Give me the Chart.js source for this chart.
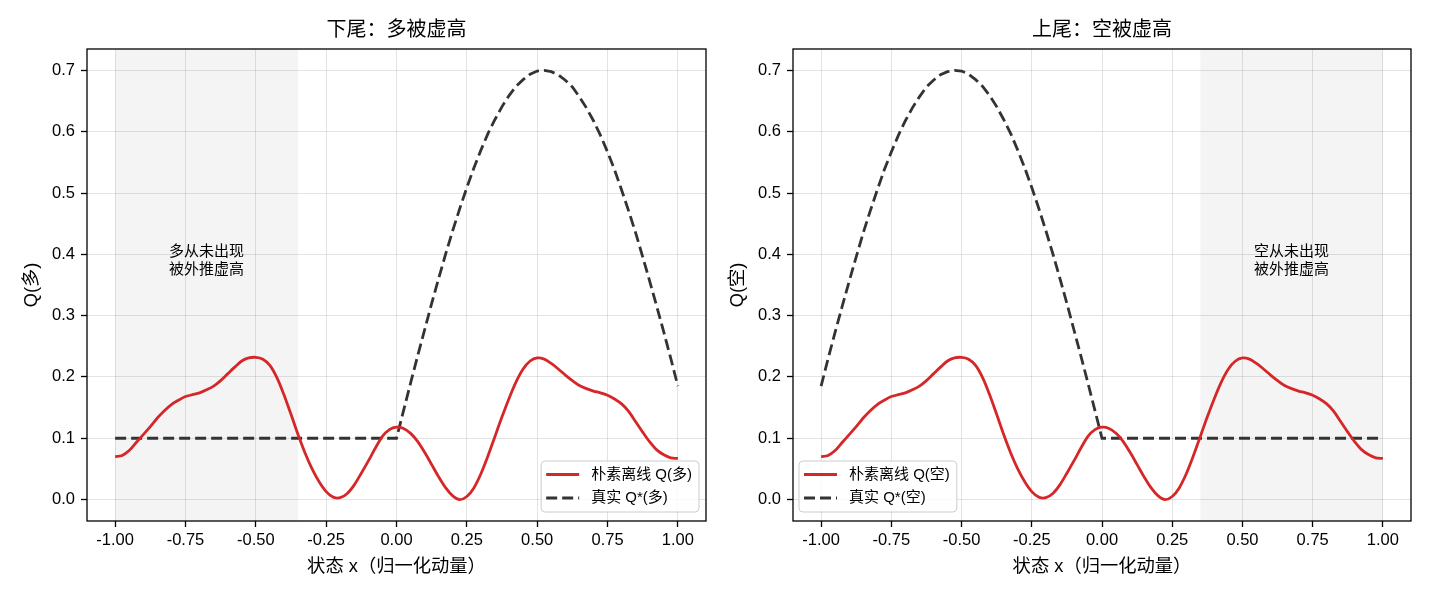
<!DOCTYPE html>
<html lang="zh-CN">
<head>
<meta charset="UTF-8">
<title>下尾 / 上尾 虚高</title>
<script src="https://cdn.jsdelivr.net/npm/chart.js@4"></script>
<style>
  body { margin: 0; background: #fff; }
  .wrap { position: relative; width: 1430px; height: 598px; }
  canvas { position: absolute; top: 0; }
</style>
</head>
<body>
<div class="wrap">
  <canvas id="lowTail" width="715" height="598" style="left:0"></canvas>
  <canvas id="highTail" width="715" height="598" style="left:715px"></canvas>
</div>
<script>
// tick labels
const xTicks = [-1, -0.75, -0.5, -0.25, 0, 0.25, 0.5, 0.75, 1];
const yTicks = [0, 0.1, 0.2, 0.3, 0.4, 0.5, 0.6, 0.7];

// naive offline Q (same curve in both panels), read every 0.025
const xNaive = [-1.000, -0.975, -0.950, -0.925, -0.900, -0.875, -0.850, -0.825, -0.800, -0.775,
  -0.750, -0.725, -0.700, -0.675, -0.650, -0.625, -0.600, -0.575, -0.550, -0.525,
  -0.500, -0.475, -0.450, -0.425, -0.400, -0.375, -0.350, -0.325, -0.300, -0.275,
  -0.250, -0.225, -0.200, -0.175, -0.150, -0.125, -0.100, -0.075, -0.050, -0.025,
  0.000, 0.025, 0.050, 0.075, 0.100, 0.125, 0.150, 0.175, 0.200, 0.225,
  0.250, 0.275, 0.300, 0.325, 0.350, 0.375, 0.400, 0.425, 0.450, 0.475,
  0.500, 0.525, 0.550, 0.575, 0.600, 0.625, 0.650, 0.675, 0.700, 0.725,
  0.750, 0.775, 0.800, 0.825, 0.850, 0.875, 0.900, 0.925, 0.950, 0.975, 1.000];
const qNaive = [0.070, 0.072, 0.080, 0.093, 0.106, 0.119, 0.133, 0.145, 0.155, 0.162,
  0.168, 0.171, 0.174, 0.179, 0.185, 0.194, 0.205, 0.216, 0.226, 0.231,
  0.232, 0.229, 0.219, 0.199, 0.171, 0.139, 0.106, 0.076, 0.050, 0.029,
  0.013, 0.004, 0.003, 0.010, 0.024, 0.043, 0.063, 0.084, 0.103, 0.114,
  0.118, 0.116, 0.108, 0.095, 0.077, 0.057, 0.037, 0.019, 0.006, 0.000,
  0.005, 0.019, 0.042, 0.071, 0.103, 0.135, 0.165, 0.192, 0.213, 0.226,
  0.231, 0.229, 0.222, 0.213, 0.203, 0.194, 0.186, 0.181, 0.177, 0.174,
  0.170, 0.164, 0.156, 0.144, 0.127, 0.110, 0.094, 0.081, 0.073, 0.068, 0.067];

// true Q*: flat part and the hump (hump is on +x for 多, mirrored to -x for 空)
const qFlat = 0.1;
const xTrue = [0, 0.025, 0.05, 0.075, 0.1, 0.125, 0.15, 0.175, 0.2, 0.225, 0.25, 0.275, 0.3, 0.325,
  0.35, 0.375, 0.4, 0.425, 0.45, 0.475, 0.5, 0.525, 0.55, 0.575, 0.6, 0.625, 0.65, 0.675,
  0.7, 0.725, 0.75, 0.775, 0.8, 0.825, 0.85, 0.875, 0.9, 0.925, 0.95, 0.975, 1];
const qTrueHump = [0.100, 0.145, 0.190, 0.234, 0.277, 0.320, 0.361, 0.401, 0.439, 0.475, 0.509, 0.541,
  0.570, 0.597, 0.620, 0.641, 0.659, 0.674, 0.685, 0.694, 0.699, 0.700, 0.698, 0.693,
  0.684, 0.673, 0.657, 0.639, 0.618, 0.594, 0.567, 0.538, 0.505, 0.471, 0.435, 0.396,
  0.356, 0.315, 0.273, 0.230, 0.185];

const FONT = '"Liberation Sans", "Noto Sans CJK SC", sans-serif';
const FONT_P = '"Liberation Sans", "Noto Sans CJK JP", "Noto Sans CJK SC", sans-serif';
const RED = '#d62728';
const DARK = '#333333';

const naivePts = xNaive.map((x, i) => ({ x: x, y: qNaive[i] }));
const truePtsLong = [{ x: -1, y: qFlat }].concat(xTrue.map((x, i) => ({ x: x, y: qTrueHump[i] })));
const truePtsShort = xTrue.map((x, i) => ({ x: -x, y: qTrueHump[i] })).reverse().concat([{ x: 1, y: qFlat }]);

// shading, frame, title, note and legend
const panelPlugin = {
  id: 'panel',
  beforeDatasetsDraw(chart, args, opts) {
    const { ctx, chartArea: a, scales: { x } } = chart;
    const x0 = x.getPixelForValue(opts.shade[0]);
    const x1 = x.getPixelForValue(opts.shade[1]);
    ctx.save();
    ctx.fillStyle = 'rgba(0,0,0,0.045)';
    ctx.fillRect(x0, a.top, x1 - x0, a.bottom - a.top);
    ctx.restore();
  },
  afterDraw(chart, args, opts) {
    const { ctx, chartArea: a, scales: { x, y } } = chart;
    ctx.save();
    // frame
    ctx.strokeStyle = '#000';
    ctx.lineWidth = 1.3;
    ctx.strokeRect(a.left, a.top, a.right - a.left, a.bottom - a.top);

    // title
    ctx.fillStyle = '#000';
    ctx.font = '20px ' + FONT_P;
    ctx.textAlign = 'center';
    ctx.textBaseline = 'middle';
    ctx.fillText(opts.title, (a.left + a.right) / 2, 30);

    // note
    ctx.font = '15px ' + FONT;
    const nx = x.getPixelForValue(opts.note.x);
    const ny = y.getPixelForValue(opts.note.y);
    opts.note.lines.forEach((t, i) => {
      ctx.fillText(t, nx, ny + (i - (opts.note.lines.length - 1) / 2) * 18);
    });

    // legend
    const ds = chart.data.datasets;
    ctx.textAlign = 'left';
    const tw = Math.max(...ds.map(d => ctx.measureText(d.label).width));
    const w = 50 + tw + 7, h = 51;
    const bx = opts.legendSide === 'right' ? a.right - 7 - w : a.left + 6;
    const by = a.bottom - 9 - h;
    ctx.beginPath();
    ctx.roundRect(bx, by, w, h, 4);
    ctx.fillStyle = 'rgba(255,255,255,0.8)';
    ctx.fill();
    ctx.strokeStyle = '#cccccc';
    ctx.lineWidth = 1;
    ctx.stroke();
    ds.forEach((d, i) => {
      const cy = by + 13.5 + i * 23.5;
      ctx.beginPath();
      ctx.strokeStyle = d.borderColor;
      ctx.lineWidth = d.borderWidth;
      ctx.setLineDash(d.borderDash || []);
      ctx.moveTo(bx + 5, cy);
      ctx.lineTo(bx + 38, cy);
      ctx.stroke();
      ctx.setLineDash([]);
      ctx.fillStyle = '#000';
      ctx.fillText(d.label, bx + 50, cy);
    });
    ctx.restore();
  }
};

function makePanel(id, cfg) {
  return new Chart(document.getElementById(id), {
    type: 'line',
    data: {
      datasets: [
        { label: cfg.naiveLabel, data: naivePts, borderColor: RED, borderWidth: 2.8,
          pointRadius: 0, tension: 0.3, fill: false },
        { label: cfg.trueLabel, data: cfg.truePts, borderColor: DARK, borderWidth: 2.8,
          borderDash: [11, 5], pointRadius: 0, tension: 0, fill: false }
      ]
    },
    options: {
      responsive: false,
      animation: false,
      devicePixelRatio: 1,
      layout: { padding: { left: 0, top: 49, right: cfg.padRight, bottom: 0 } },
      plugins: {
        legend: { display: false },
        tooltip: { enabled: false },
        panel: { title: cfg.title, shade: cfg.shade, note: cfg.note, legendSide: cfg.legendSide }
      },
      scales: {
        x: {
          type: 'linear', min: -1.1, max: 1.1,
          afterBuildTicks: s => { s.ticks = xTicks.map(v => ({ value: v })); },
          afterFit: s => { s.height = 77; },
          border: { display: false },
          grid: { color: 'rgba(0,0,0,0.11)', lineWidth: 1, tickColor: '#000', tickLength: 6, tickWidth: 1.3 },
          ticks: { color: '#000', font: { family: FONT, size: 16.5 }, padding: 4, maxRotation: 0,
                   callback: v => Number(v).toFixed(2) },
          title: { display: true, text: '状态 x（归一化动量）', color: '#000',
                   font: { family: FONT_P, size: 18.3 }, padding: { top: 0, bottom: 20 } }
        },
        y: {
          type: 'linear', min: -0.035, max: 0.735,
          afterBuildTicks: s => { s.ticks = yTicks.map(v => ({ value: v })); },
          afterFit: s => { s.width = cfg.yWidth; },
          border: { display: false },
          grid: { color: 'rgba(0,0,0,0.11)', lineWidth: 1, tickColor: '#000', tickLength: 6, tickWidth: 1.3 },
          ticks: { color: '#000', font: { family: FONT, size: 16.5 }, padding: 6,
                   callback: v => Number(v).toFixed(1) },
          title: { display: true, text: cfg.yLabel, color: '#000',
                   font: { family: FONT, size: 18.3 }, padding: { top: cfg.yTitlePad, bottom: 0 } }
        }
      }
    },
    plugins: [panelPlugin]
  });
}

makePanel('lowTail', {
  title: '下尾：多被虚高',
  naiveLabel: '朴素离线 Q(多)',
  trueLabel: '真实 Q*(多)',
  truePts: truePtsLong,
  yLabel: 'Q(多)',
  yWidth: 87, yTitlePad: 21, padRight: 9,
  shade: [-1, -0.35],
  note: { x: -0.675, y: 0.39, lines: ['多从未出现', '被外推虚高'] },
  legendSide: 'right'
});

makePanel('highTail', {
  title: '上尾：空被虚高',
  naiveLabel: '朴素离线 Q(空)',
  trueLabel: '真实 Q*(空)',
  truePts: truePtsShort,
  yLabel: 'Q(空)',
  yWidth: 78, yTitlePad: 12, padRight: 19,
  shade: [0.35, 1],
  note: { x: 0.675, y: 0.39, lines: ['空从未出现', '被外推虚高'] },
  legendSide: 'left'
});
</script>
</body>
</html>
